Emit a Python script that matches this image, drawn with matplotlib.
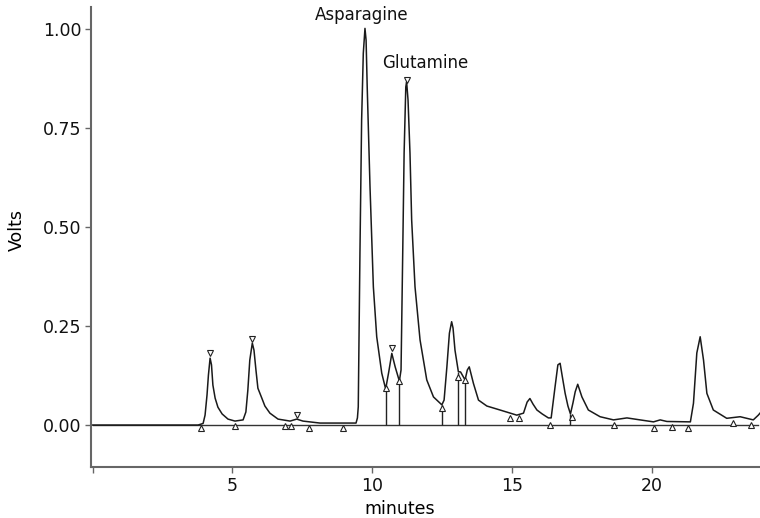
import matplotlib
matplotlib.use("Agg")
import matplotlib.pyplot as plt

# ------------------------------------------------------------
# Chromatogram trace
# ------------------------------------------------------------
trace_min = [
    0.00, 3.77, 3.95, 4.02, 4.09, 4.14, 4.20, 4.25, 4.30, 4.38, 4.48, 4.63,
    4.84, 5.09, 5.38, 5.48, 5.55, 5.62, 5.71, 5.77, 5.84, 5.91, 6.05, 6.16,
    6.34, 6.63, 7.06, 7.30, 7.52, 8.13, 9.42, 9.47, 9.50, 9.56, 9.62, 9.68,
    9.74, 9.78, 9.82, 9.92, 10.04, 10.16, 10.34, 10.48, 10.59, 10.70, 10.82,
    10.97, 11.03, 11.09, 11.14, 11.20, 11.23, 11.28, 11.35, 11.41, 11.53,
    11.71, 11.95, 12.19, 12.49, 12.57, 12.67, 12.76, 12.84, 12.89, 12.96,
    13.08, 13.16, 13.32, 13.40, 13.47, 13.62, 13.80, 14.10, 14.57, 15.17,
    15.41, 15.54, 15.64, 15.75, 15.89, 16.08, 16.30, 16.40, 16.54, 16.64,
    16.72, 16.79, 16.90, 17.00, 17.09, 17.18, 17.26, 17.35, 17.50, 17.73,
    18.15, 18.63, 19.11, 19.58, 20.06, 20.30, 20.54, 21.38, 21.49, 21.61,
    21.73, 21.85, 21.97, 22.20, 22.68, 23.16, 23.63, 23.81, 23.87,
]
trace_volts = [
    0.000, 0.000, 0.004, 0.025, 0.076, 0.126, 0.169, 0.152, 0.101, 0.068, 0.045, 0.028,
    0.015, 0.010, 0.013, 0.033, 0.088, 0.164, 0.207, 0.189, 0.139, 0.093, 0.068, 0.048,
    0.030, 0.015, 0.010, 0.015, 0.010, 0.005, 0.005, 0.018, 0.046, 0.434, 0.770, 0.939,
    1.002, 0.972, 0.854, 0.602, 0.349, 0.223, 0.131, 0.091, 0.134, 0.181, 0.147,
    0.111, 0.139, 0.434, 0.687, 0.854, 0.867, 0.821, 0.687, 0.518, 0.349,
    0.215, 0.114, 0.071, 0.051, 0.063, 0.147, 0.232, 0.261, 0.245, 0.189,
    0.135, 0.134, 0.114, 0.139, 0.147, 0.105, 0.063, 0.048, 0.038, 0.025,
    0.030, 0.058, 0.067, 0.053, 0.038, 0.028, 0.018, 0.018, 0.097, 0.152,
    0.156, 0.126, 0.080, 0.048, 0.028, 0.056, 0.084, 0.103, 0.071, 0.038,
    0.021, 0.013, 0.018, 0.013, 0.008, 0.013, 0.009, 0.008, 0.055, 0.182,
    0.223, 0.164, 0.080, 0.038, 0.017, 0.021, 0.013, 0.025, 0.030,
]

# peak apex markers (down triangles)
apex_min = [4.20, 5.71, 7.30, 10.72, 11.23]
apex_volts = [0.181, 0.217, 0.025, 0.195, 0.871]

# peak start / end markers (up triangles)
edge_min = [3.88, 5.09, 6.88, 7.08, 7.75, 8.97, 10.48, 10.97, 12.49, 13.07,
            13.32, 14.91, 15.26, 16.36, 17.14, 18.63, 20.09, 20.72, 21.31,
            22.90, 23.54]
edge_volts = [-0.008, -0.003, -0.003, -0.003, -0.008, -0.008, 0.093, 0.111,
              0.043, 0.122, 0.114, 0.017, 0.017, 0.000, 0.021, 0.000, -0.008,
              -0.006, -0.008, 0.004, 0.000]

# vertical drop lines between fused peaks
drop_min = [10.48, 10.97, 12.49, 13.08, 13.32, 17.09]
drop_volts = [0.091, 0.111, 0.051, 0.135, 0.114, 0.028]

# named peaks
peak_names = ["Asparagine", "Glutamine"]
name_min = [9.64, 11.90]
name_volts = [1.035, 0.914]

# ------------------------------------------------------------
# Plot
# ------------------------------------------------------------
fig = plt.figure(figsize=(7.6, 5.18), dpi=100)
ax = fig.add_axes([91 / 760, 51 / 518, 669 / 760, 460 / 518])

ax.plot([0, 23.8], [0, 0], color="#333333", lw=1.0, zorder=1)
ax.vlines(drop_min, 0, drop_volts, color="#222222", lw=1.0, zorder=2)
ax.plot(trace_min, trace_volts, color="#1a1a1a", lw=1.1, zorder=3)

ax.plot(apex_min, apex_volts, linestyle="none", marker="v", ms=5,
        mfc="white", mec="#222222", mew=0.8, zorder=4)
ax.plot(edge_min, edge_volts, linestyle="none", marker="^", ms=5,
        mfc="white", mec="#222222", mew=0.8, zorder=4)

for name, t, v in zip(peak_names, name_min, name_volts):
    ax.text(t, v, name, ha="center", va="center", fontsize=12, color="#111111")

ax.set_xlim(-0.06, 23.87)
ax.set_ylim(-0.106, 1.056)

ax.set_xticks([0, 5, 10, 15, 20])
ax.set_xticklabels(["", "5", "10", "15", "20"])
ax.set_yticks([0.0, 0.25, 0.5, 0.75, 1.0])
ax.set_yticklabels(["0.00", "0.25", "0.50", "0.75", "1.00"])

for side in ["top", "right"]:
    ax.spines[side].set_visible(False)
for side in ["left", "bottom"]:
    ax.spines[side].set_color("#666666")
    ax.spines[side].set_linewidth(1.5)

ax.tick_params(direction="out", length=4, width=1, color="#666666",
               labelsize=12.5, labelcolor="#111111", pad=3)

ax.set_xlabel("minutes", fontsize=12.5)
ax.set_ylabel("Volts", fontsize=12.5)
ax.xaxis.set_label_coords(0.462, -0.072)
ax.yaxis.set_label_coords(-0.097, 0.515)

fig.savefig("out.png", dpi=100)
